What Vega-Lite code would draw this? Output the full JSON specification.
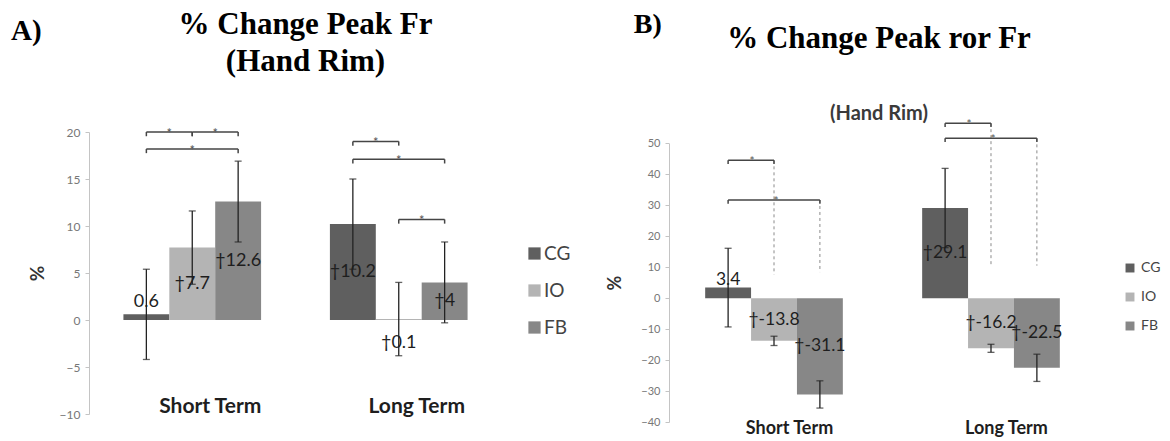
{
  "$schema": "https://vega.github.io/schema/vega-lite/v6.json",
  "background": "white",
  "padding": {"left": 11, "top": 9, "right": 0, "bottom": 0},
  "config": {
    "view": {"stroke": null},
    "font": "Lato",
    "axis": {"grid": false},
    "legend": {"padding": 0}
  },
  "datasets": {
    "bars": [
      {"panel": "A", "term": "Short Term", "group": "CG", "value": 0.6, "err": 4.8, "sig": false},
      {"panel": "A", "term": "Short Term", "group": "IO", "value": 7.7, "err": 3.9, "sig": true},
      {"panel": "A", "term": "Short Term", "group": "FB", "value": 12.6, "err": 4.3, "sig": true},
      {"panel": "A", "term": "Long Term", "group": "CG", "value": 10.2, "err": 4.8, "sig": true},
      {"panel": "A", "term": "Long Term", "group": "IO", "value": 0.1, "err": 3.9, "sig": true},
      {"panel": "A", "term": "Long Term", "group": "FB", "value": 4, "err": 4.3, "sig": true},
      {"panel": "B", "term": "Short Term", "group": "CG", "value": 3.4, "err": 12.7, "sig": false},
      {"panel": "B", "term": "Short Term", "group": "IO", "value": -13.8, "err": 1.5, "sig": true},
      {"panel": "B", "term": "Short Term", "group": "FB", "value": -31.1, "err": 4.4, "sig": true},
      {"panel": "B", "term": "Long Term", "group": "CG", "value": 29.1, "err": 12.8, "sig": true},
      {"panel": "B", "term": "Long Term", "group": "IO", "value": -16.2, "err": 1.3, "sig": true},
      {"panel": "B", "term": "Long Term", "group": "FB", "value": -22.5, "err": 4.4, "sig": true}
    ],
    "brackets": [
      {"panel": "A", "term": "Short Term", "from": "CG", "to": "IO", "level": 20},
      {"panel": "A", "term": "Short Term", "from": "IO", "to": "FB", "level": 20},
      {"panel": "A", "term": "Short Term", "from": "CG", "to": "FB", "level": 18.2},
      {"panel": "A", "term": "Long Term", "from": "CG", "to": "IO", "level": 19},
      {"panel": "A", "term": "Long Term", "from": "CG", "to": "FB", "level": 17.1},
      {"panel": "A", "term": "Long Term", "from": "IO", "to": "FB", "level": 10.7},
      {"panel": "B", "term": "Short Term", "from": "CG", "to": "IO", "level": 44.5},
      {"panel": "B", "term": "Short Term", "from": "CG", "to": "FB", "level": 31.7},
      {"panel": "B", "term": "Long Term", "from": "CG", "to": "IO", "level": 56.5},
      {"panel": "B", "term": "Long Term", "from": "CG", "to": "FB", "level": 51.6}
    ],
    "drops": [
      {"panel": "B", "term": "Short Term", "group": "IO", "top": 44.5, "bottom": 7.6},
      {"panel": "B", "term": "Short Term", "group": "FB", "top": 31.7, "bottom": 8.4},
      {"panel": "B", "term": "Long Term", "group": "IO", "top": 56.5, "bottom": 10.8},
      {"panel": "B", "term": "Long Term", "group": "FB", "top": 51.6, "bottom": 10.5}
    ]
  },
  "resolve": {"scale": {"color": "independent"}, "legend": {"color": "independent"}},
  "spacing": 35,
  "hconcat": [
    {
      "title": {"text": "A)", "font": "Liberation Serif", "fontSize": 29, "fontWeight": "bold", "color": "black", "anchor": "start", "frame": "bounds", "dx": -17, "dy": 37, "offset": 0},
      "vconcat": [
        {
          "width": 413,
          "height": 282,
          "title": {"text": ["% Change Peak Fr", "(Hand Rim)"], "font": "Liberation Serif", "fontSize": 31, "fontWeight": "bold", "color": "black", "lineHeight": 37, "anchor": "middle", "frame": "group", "dx": 10, "offset": 48},
          "encoding": {
            "x": {"field": "term", "type": "nominal", "title": null,
              "scale": {"domain": ["Short Term", "Long Term"], "paddingInner": 0.3333, "paddingOuter": 0.1667},
              "axis": {"domain": false, "ticks": false, "labelAngle": 0, "labelFont": "Lato", "labelFontWeight": "bold", "labelFontSize": 21, "labelColor": "#1e1e1e", "labelPadding": 2, "offset": -21, "labelOffset": 18}},
            "xOffset": {"field": "group", "type": "nominal", "scale": {"domain": ["CG", "IO", "FB"], "paddingInner": 0, "paddingOuter": 0}}
          },
          "layer": [
            {
              "data": {"name": "bars"},
              "transform": [{"filter": "datum.panel == 'A'"}],
              "mark": {"type": "bar"},
              "encoding": {
                "y": {"field": "value", "type": "quantitative", "title": "%",
                  "scale": {"domain": [-10, 20], "nice": false},
                  "axis": {"values": [-10, -5, 0, 5, 10, 15, 20], "labelColor": "#777777", "labelFontSize": 12, "labelFont": "Lato", "domainColor": "#c4c4c4", "tickColor": "#c4c4c4", "tickSize": 4, "labelPadding": 5, "titleFont": "Lato", "titleFontSize": 19, "titleFontWeight": "bold", "titleColor": "#333333", "titlePadding": 12}},
                "color": {"field": "group", "type": "nominal",
                  "scale": {"domain": ["CG", "IO", "FB"], "range": ["#5f5f5f", "#b4b4b4", "#878787"]},
                  "legend": {"title": null, "orient": "none", "legendX": 436, "legendY": 112, "symbolType": "square", "symbolSize": 150, "symbolStrokeWidth": 0, "labelFont": "Lato", "labelFontSize": 19, "labelColor": "#444444", "rowPadding": 17, "labelOffset": 0}}
              }
            },
            {
              "data": {"name": "bars"},
              "transform": [
                {"filter": "datum.panel == 'A'"},
                {"calculate": "datum.value - datum.err", "as": "lo"},
                {"calculate": "datum.value + datum.err", "as": "hi"}
              ],
              "mark": {"type": "rule", "color": "#222222", "strokeWidth": 1.3},
              "encoding": {"y": {"field": "lo", "type": "quantitative", "title": "%", "axis": {"values": [-10, -5, 0, 5, 10, 15, 20], "labelColor": "#777777", "labelFontSize": 12, "labelFont": "Lato", "domainColor": "#c4c4c4", "tickColor": "#c4c4c4", "tickSize": 4, "labelPadding": 5, "titleFont": "Lato", "titleFontSize": 19, "titleFontWeight": "bold", "titleColor": "#333333", "titlePadding": 12}}, "y2": {"field": "hi"}}
            },
            {
              "data": {"name": "bars"},
              "transform": [
                {"filter": "datum.panel == 'A'"},
                {"calculate": "datum.value - datum.err", "as": "lo"},
                {"calculate": "datum.value + datum.err", "as": "hi"},
                {"fold": ["lo", "hi"], "as": ["end", "at"]}
              ],
              "mark": {"type": "tick", "color": "#222222", "thickness": 1.3, "size": 7, "orient": "horizontal"},
              "encoding": {"y": {"field": "at", "type": "quantitative", "title": "%", "axis": {"values": [-10, -5, 0, 5, 10, 15, 20], "labelColor": "#777777", "labelFontSize": 12, "labelFont": "Lato", "domainColor": "#c4c4c4", "tickColor": "#c4c4c4", "tickSize": 4, "labelPadding": 5, "titleFont": "Lato", "titleFontSize": 19, "titleFontWeight": "bold", "titleColor": "#333333", "titlePadding": 12}}}
            },
            {
              "data": {"name": "bars"},
              "transform": [
                {"filter": "datum.panel == 'A' && abs(datum.value) >= 3.5"},
                {"calculate": "(datum.sig ? '†' : '') + datum.value", "as": "lbl"},
                {"calculate": "datum.value / 2", "as": "mid"}
              ],
              "mark": {"type": "text", "font": "Lato", "fontSize": 18, "color": "#1e1e1e", "baseline": "middle"},
              "encoding": {"y": {"field": "mid", "type": "quantitative", "title": "%", "axis": {"values": [-10, -5, 0, 5, 10, 15, 20], "labelColor": "#777777", "labelFontSize": 12, "labelFont": "Lato", "domainColor": "#c4c4c4", "tickColor": "#c4c4c4", "tickSize": 4, "labelPadding": 5, "titleFont": "Lato", "titleFontSize": 19, "titleFontWeight": "bold", "titleColor": "#333333", "titlePadding": 12}}, "text": {"field": "lbl"}}
            },
            {
              "data": {"name": "bars"},
              "transform": [
                {"filter": "datum.panel == 'A' && abs(datum.value) < 3.5 && datum.group == 'CG'"},
                {"calculate": "(datum.sig ? '†' : '') + datum.value", "as": "lbl"}
              ],
              "mark": {"type": "text", "font": "Lato", "fontSize": 18, "color": "#1e1e1e", "baseline": "bottom", "dy": -3},
              "encoding": {"y": {"field": "value", "type": "quantitative", "title": "%", "axis": {"values": [-10, -5, 0, 5, 10, 15, 20], "labelColor": "#777777", "labelFontSize": 12, "labelFont": "Lato", "domainColor": "#c4c4c4", "tickColor": "#c4c4c4", "tickSize": 4, "labelPadding": 5, "titleFont": "Lato", "titleFontSize": 19, "titleFontWeight": "bold", "titleColor": "#333333", "titlePadding": 12}}, "text": {"field": "lbl"}}
            },
            {
              "data": {"name": "bars"},
              "transform": [
                {"filter": "datum.panel == 'A' && abs(datum.value) < 3.5 && datum.group != 'CG'"},
                {"calculate": "(datum.sig ? '†' : '') + datum.value", "as": "lbl"}
              ],
              "mark": {"type": "text", "font": "Lato", "fontSize": 18, "color": "#1e1e1e", "baseline": "top", "dy": 15},
              "encoding": {"y": {"field": "value", "type": "quantitative", "title": "%", "axis": {"values": [-10, -5, 0, 5, 10, 15, 20], "labelColor": "#777777", "labelFontSize": 12, "labelFont": "Lato", "domainColor": "#c4c4c4", "tickColor": "#c4c4c4", "tickSize": 4, "labelPadding": 5, "titleFont": "Lato", "titleFontSize": 19, "titleFontWeight": "bold", "titleColor": "#333333", "titlePadding": 12}}, "text": {"field": "lbl"}}
            },
            {
              "data": {"name": "brackets"},
              "transform": [
                {"filter": "datum.panel == 'A'"},
                {"calculate": "datum.term + datum.from + datum.to", "as": "id"},
                {"fold": ["from", "to"], "as": ["end", "group"]}
              ],
              "mark": {"type": "line", "color": "#454545", "strokeWidth": 1.5},
              "encoding": {"y": {"field": "level", "type": "quantitative", "title": "%", "axis": {"values": [-10, -5, 0, 5, 10, 15, 20], "labelColor": "#777777", "labelFontSize": 12, "labelFont": "Lato", "domainColor": "#c4c4c4", "tickColor": "#c4c4c4", "tickSize": 4, "labelPadding": 5, "titleFont": "Lato", "titleFontSize": 19, "titleFontWeight": "bold", "titleColor": "#333333", "titlePadding": 12}}, "detail": {"field": "id"}}
            },
            {
              "data": {"name": "brackets"},
              "transform": [
                {"filter": "datum.panel == 'A'"},
                {"fold": ["from", "to"], "as": ["end", "group"]},
                {"calculate": "datum.level - 0.45", "as": "tip"}
              ],
              "mark": {"type": "rule", "color": "#454545", "strokeWidth": 1.5},
              "encoding": {"y": {"field": "level", "type": "quantitative", "title": "%", "axis": {"values": [-10, -5, 0, 5, 10, 15, 20], "labelColor": "#777777", "labelFontSize": 12, "labelFont": "Lato", "domainColor": "#c4c4c4", "tickColor": "#c4c4c4", "tickSize": 4, "labelPadding": 5, "titleFont": "Lato", "titleFontSize": 19, "titleFontWeight": "bold", "titleColor": "#333333", "titlePadding": 12}}, "y2": {"field": "tip"}}
            },
            {
              "data": {"name": "brackets"},
              "transform": [{"filter": "datum.panel == 'A' && !(datum.from == 'CG' && datum.to == 'FB')"}],
              "mark": {"type": "text", "text": "*", "font": "Lato", "fontSize": 13, "color": "#555555", "baseline": "alphabetic", "dy": 6, "dx": 23},
              "encoding": {"xOffset": {"field": "from", "type": "nominal"}, "y": {"field": "level", "type": "quantitative", "title": "%", "axis": {"values": [-10, -5, 0, 5, 10, 15, 20], "labelColor": "#777777", "labelFontSize": 12, "labelFont": "Lato", "domainColor": "#c4c4c4", "tickColor": "#c4c4c4", "tickSize": 4, "labelPadding": 5, "titleFont": "Lato", "titleFontSize": 19, "titleFontWeight": "bold", "titleColor": "#333333", "titlePadding": 12}}}
            },
            {
              "data": {"name": "brackets"},
              "transform": [{"filter": "datum.panel == 'A' && datum.from == 'CG' && datum.to == 'FB'"}],
              "mark": {"type": "text", "text": "*", "font": "Lato", "fontSize": 13, "color": "#555555", "baseline": "alphabetic", "dy": 6, "dx": 46},
              "encoding": {"xOffset": {"field": "from", "type": "nominal"}, "y": {"field": "level", "type": "quantitative", "title": "%", "axis": {"values": [-10, -5, 0, 5, 10, 15, 20], "labelColor": "#777777", "labelFontSize": 12, "labelFont": "Lato", "domainColor": "#c4c4c4", "tickColor": "#c4c4c4", "tickSize": 4, "labelPadding": 5, "titleFont": "Lato", "titleFontSize": 19, "titleFontWeight": "bold", "titleColor": "#333333", "titlePadding": 12}}}
            }
          ]
        }
      ]
    },
    {
      "title": {"text": "B)", "font": "Liberation Serif", "fontSize": 28, "fontWeight": "bold", "color": "black", "anchor": "start", "frame": "bounds", "dx": 27, "dy": 16, "offset": 0},
      "vconcat": [
        {
          "width": 434,
          "height": 290,
          "title": {"text": "% Change Peak ror Fr", "subtitle": "(Hand Rim)", "font": "Liberation Serif", "fontSize": 31, "fontWeight": "bold", "color": "black", "subtitleFont": "Lato", "subtitleFontSize": 20, "subtitleFontWeight": "bold", "subtitleColor": "#3a3a3a", "subtitlePadding": 49, "anchor": "middle", "frame": "group", "dx": -7, "offset": -7},
          "encoding": {
            "x": {"field": "term", "type": "nominal", "title": null,
              "scale": {"domain": ["Short Term", "Long Term"], "paddingInner": 0.3333, "paddingOuter": 0.1667},
              "axis": {"domain": false, "ticks": false, "labelAngle": 0, "labelFont": "Lato", "labelFontWeight": "bold", "labelFontSize": 18, "labelColor": "#1e1e1e", "labelPadding": -3, "labelOffset": 12}},
            "xOffset": {"field": "group", "type": "nominal", "scale": {"domain": ["CG", "IO", "FB"], "paddingInner": 0, "paddingOuter": 0}}
          },
          "layer": [
            {
              "data": {"name": "bars"},
              "transform": [{"filter": "datum.panel == 'B'"}],
              "mark": {"type": "bar"},
              "encoding": {
                "y": {"field": "value", "type": "quantitative", "title": "%",
                  "scale": {"domain": [-40, 50], "nice": false, "range": [290, 11.3]},
                  "axis": {"values": [-40, -30, -20, -10, 0, 10, 20, 30, 40, 50], "labelColor": "#777777", "labelFontSize": 11, "labelFont": "Lato", "domainColor": "#c4c4c4", "tickColor": "#c4c4c4", "tickSize": 4, "labelPadding": 5, "titleFont": "Lato", "titleFontSize": 18, "titleFontWeight": "bold", "titleColor": "#333333", "titlePadding": 16}},
                "color": {"field": "group", "type": "nominal",
                  "scale": {"domain": ["CG", "IO", "FB"], "range": ["#5f5f5f", "#b4b4b4", "#878787"]},
                  "legend": {"title": null, "orient": "none", "legendX": 454, "legendY": 129, "symbolType": "square", "symbolSize": 80, "symbolStrokeWidth": 0, "labelFont": "Lato", "labelFontSize": 14, "labelColor": "#444444", "rowPadding": 15, "labelOffset": 4}}
              }
            },
            {
              "data": {"name": "drops"},
              "transform": [{"filter": "datum.panel == 'B'"}],
              "mark": {"type": "rule", "color": "#8a8a8a", "strokeWidth": 1, "strokeDash": [3, 3]},
              "encoding": {"y": {"field": "top", "type": "quantitative", "title": "%", "axis": {"values": [-40, -30, -20, -10, 0, 10, 20, 30, 40, 50], "labelColor": "#777777", "labelFontSize": 11, "labelFont": "Lato", "domainColor": "#c4c4c4", "tickColor": "#c4c4c4", "tickSize": 4, "labelPadding": 5, "titleFont": "Lato", "titleFontSize": 18, "titleFontWeight": "bold", "titleColor": "#333333", "titlePadding": 16}}, "y2": {"field": "bottom"}}
            },
            {
              "data": {"name": "bars"},
              "transform": [
                {"filter": "datum.panel == 'B'"},
                {"calculate": "datum.value - datum.err", "as": "lo"},
                {"calculate": "datum.value + datum.err", "as": "hi"}
              ],
              "mark": {"type": "rule", "color": "#222222", "strokeWidth": 1.3},
              "encoding": {"y": {"field": "lo", "type": "quantitative", "title": "%", "axis": {"values": [-40, -30, -20, -10, 0, 10, 20, 30, 40, 50], "labelColor": "#777777", "labelFontSize": 11, "labelFont": "Lato", "domainColor": "#c4c4c4", "tickColor": "#c4c4c4", "tickSize": 4, "labelPadding": 5, "titleFont": "Lato", "titleFontSize": 18, "titleFontWeight": "bold", "titleColor": "#333333", "titlePadding": 16}}, "y2": {"field": "hi"}}
            },
            {
              "data": {"name": "bars"},
              "transform": [
                {"filter": "datum.panel == 'B'"},
                {"calculate": "datum.value - datum.err", "as": "lo"},
                {"calculate": "datum.value + datum.err", "as": "hi"},
                {"fold": ["lo", "hi"], "as": ["end", "at"]}
              ],
              "mark": {"type": "tick", "color": "#222222", "thickness": 1.3, "size": 7, "orient": "horizontal"},
              "encoding": {"y": {"field": "at", "type": "quantitative", "title": "%", "axis": {"values": [-40, -30, -20, -10, 0, 10, 20, 30, 40, 50], "labelColor": "#777777", "labelFontSize": 11, "labelFont": "Lato", "domainColor": "#c4c4c4", "tickColor": "#c4c4c4", "tickSize": 4, "labelPadding": 5, "titleFont": "Lato", "titleFontSize": 18, "titleFontWeight": "bold", "titleColor": "#333333", "titlePadding": 16}}}
            },
            {
              "data": {"name": "bars"},
              "transform": [
                {"filter": "datum.panel == 'B' && abs(datum.value) >= 3.5"},
                {"calculate": "(datum.sig ? '†' : '') + datum.value", "as": "lbl"},
                {"calculate": "datum.value / 2", "as": "mid"}
              ],
              "mark": {"type": "text", "font": "Lato", "fontSize": 17.5, "color": "#1e1e1e", "baseline": "middle"},
              "encoding": {"y": {"field": "mid", "type": "quantitative", "title": "%", "axis": {"values": [-40, -30, -20, -10, 0, 10, 20, 30, 40, 50], "labelColor": "#777777", "labelFontSize": 11, "labelFont": "Lato", "domainColor": "#c4c4c4", "tickColor": "#c4c4c4", "tickSize": 4, "labelPadding": 5, "titleFont": "Lato", "titleFontSize": 18, "titleFontWeight": "bold", "titleColor": "#333333", "titlePadding": 16}}, "text": {"field": "lbl"}}
            },
            {
              "data": {"name": "bars"},
              "transform": [
                {"filter": "datum.panel == 'B' && abs(datum.value) < 3.5"},
                {"calculate": "(datum.sig ? '†' : '') + datum.value", "as": "lbl"}
              ],
              "mark": {"type": "text", "font": "Lato", "fontSize": 17.5, "color": "#1e1e1e", "baseline": "bottom", "dy": 1},
              "encoding": {"y": {"field": "value", "type": "quantitative", "title": "%", "axis": {"values": [-40, -30, -20, -10, 0, 10, 20, 30, 40, 50], "labelColor": "#777777", "labelFontSize": 11, "labelFont": "Lato", "domainColor": "#c4c4c4", "tickColor": "#c4c4c4", "tickSize": 4, "labelPadding": 5, "titleFont": "Lato", "titleFontSize": 18, "titleFontWeight": "bold", "titleColor": "#333333", "titlePadding": 16}}, "text": {"field": "lbl"}}
            },
            {
              "data": {"name": "brackets"},
              "transform": [
                {"filter": "datum.panel == 'B'"},
                {"calculate": "datum.term + datum.from + datum.to", "as": "id"},
                {"fold": ["from", "to"], "as": ["end", "group"]}
              ],
              "mark": {"type": "line", "color": "#454545", "strokeWidth": 1.5},
              "encoding": {"y": {"field": "level", "type": "quantitative", "title": "%", "axis": {"values": [-40, -30, -20, -10, 0, 10, 20, 30, 40, 50], "labelColor": "#777777", "labelFontSize": 11, "labelFont": "Lato", "domainColor": "#c4c4c4", "tickColor": "#c4c4c4", "tickSize": 4, "labelPadding": 5, "titleFont": "Lato", "titleFontSize": 18, "titleFontWeight": "bold", "titleColor": "#333333", "titlePadding": 16}}, "detail": {"field": "id"}}
            },
            {
              "data": {"name": "brackets"},
              "transform": [
                {"filter": "datum.panel == 'B'"},
                {"fold": ["from", "to"], "as": ["end", "group"]},
                {"calculate": "datum.level - 1.2", "as": "tip"}
              ],
              "mark": {"type": "rule", "color": "#454545", "strokeWidth": 1.5},
              "encoding": {"y": {"field": "level", "type": "quantitative", "title": "%", "axis": {"values": [-40, -30, -20, -10, 0, 10, 20, 30, 40, 50], "labelColor": "#777777", "labelFontSize": 11, "labelFont": "Lato", "domainColor": "#c4c4c4", "tickColor": "#c4c4c4", "tickSize": 4, "labelPadding": 5, "titleFont": "Lato", "titleFontSize": 18, "titleFontWeight": "bold", "titleColor": "#333333", "titlePadding": 16}}, "y2": {"field": "tip"}}
            },
            {
              "data": {"name": "brackets"},
              "transform": [{"filter": "datum.panel == 'B' && !(datum.from == 'CG' && datum.to == 'FB')"}],
              "mark": {"type": "text", "text": "*", "font": "Lato", "fontSize": 12, "color": "#555555", "baseline": "alphabetic", "dy": 5, "dx": 24},
              "encoding": {"xOffset": {"field": "from", "type": "nominal"}, "y": {"field": "level", "type": "quantitative", "title": "%", "axis": {"values": [-40, -30, -20, -10, 0, 10, 20, 30, 40, 50], "labelColor": "#777777", "labelFontSize": 11, "labelFont": "Lato", "domainColor": "#c4c4c4", "tickColor": "#c4c4c4", "tickSize": 4, "labelPadding": 5, "titleFont": "Lato", "titleFontSize": 18, "titleFontWeight": "bold", "titleColor": "#333333", "titlePadding": 16}}}
            },
            {
              "data": {"name": "brackets"},
              "transform": [{"filter": "datum.panel == 'B' && datum.from == 'CG' && datum.to == 'FB'"}],
              "mark": {"type": "text", "text": "*", "font": "Lato", "fontSize": 12, "color": "#555555", "baseline": "alphabetic", "dy": 5, "dx": 48},
              "encoding": {"xOffset": {"field": "from", "type": "nominal"}, "y": {"field": "level", "type": "quantitative", "title": "%", "axis": {"values": [-40, -30, -20, -10, 0, 10, 20, 30, 40, 50], "labelColor": "#777777", "labelFontSize": 11, "labelFont": "Lato", "domainColor": "#c4c4c4", "tickColor": "#c4c4c4", "tickSize": 4, "labelPadding": 5, "titleFont": "Lato", "titleFontSize": 18, "titleFontWeight": "bold", "titleColor": "#333333", "titlePadding": 16}}}
            }
          ]
        }
      ]
    }
  ]
}
